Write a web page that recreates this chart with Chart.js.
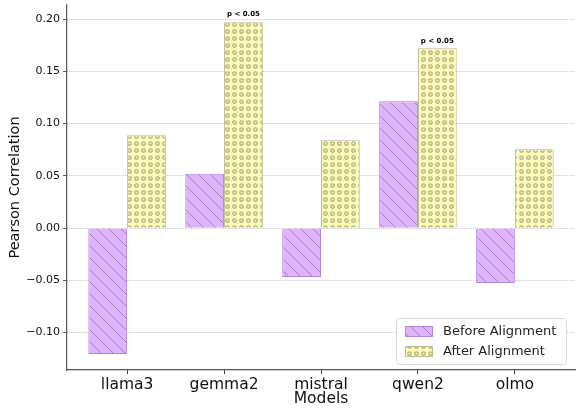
<!DOCTYPE html>
<html>
<head>
<meta charset="utf-8">
<script src="https://cdn.jsdelivr.net/npm/chart.js@4"></script>
<style>
  body { margin: 0; background: #fff; }
  #wrap { width: 576px; height: 408px; }
</style>
</head>
<body>
<div id="wrap"><canvas id="chart" width="576" height="408"></canvas></div>
<script>
const models = ["llama3", "gemma2", "mistral", "qwen2", "olmo"];
const beforeAlign = [-0.1205, 0.0520, -0.0468, 0.1214, -0.0526];
const afterAlign = [0.0889, 0.1970, 0.0841, 0.1720, 0.0755];
const pLabels = ["", "p < 0.05", "", "p < 0.05", ""];
const yTicks = [-0.10, -0.05, 0.00, 0.05, 0.10, 0.15, 0.20];

const FONT = "'DejaVu Sans', sans-serif";

// hatch patterns, made on small offscreen canvases
function makeLines() {
  const c = document.createElement("canvas");
  c.width = 12; c.height = 12;
  const g = c.getContext("2d");
  g.fillStyle = "#deb4fa";
  g.fillRect(0, 0, 12, 12);
  g.strokeStyle = "#a77ccb";
  g.lineWidth = 1;
  g.beginPath();
  g.moveTo(-1, -1); g.lineTo(13, 13);
  g.moveTo(-13, -1); g.lineTo(1, 13);
  g.moveTo(11, -1); g.lineTo(25, 13);
  g.stroke();
  return g.createPattern(c, "repeat");
}
function makeDots() {
  const c = document.createElement("canvas");
  c.width = 7; c.height = 7;
  const g = c.getContext("2d");
  g.fillStyle = "#fdfbb6";
  g.fillRect(0, 0, 7, 7);
  g.strokeStyle = "#b3af88";
  g.lineWidth = 1.3;
  g.beginPath();
  g.arc(3.5, 3.5, 1.7, 0, Math.PI * 2);
  g.stroke();
  return g.createPattern(c, "repeat");
}

const ctx = document.getElementById("chart").getContext("2d");
const linesPat = makeLines();
const dotsPat = makeDots();

// legend drawn by hand, inside the plot at lower right
const boxLegend = {
  id: "boxLegend",
  afterDraw(chart) {
    const c = chart.ctx;
    const x = 396, y = 318, w = 170, h = 46;
    c.save();
    c.fillStyle = "rgba(255,255,255,0.85)";
    c.strokeStyle = "#d8d8d8";
    c.lineWidth = 1;
    c.beginPath();
    c.roundRect(x + 0.5, y + 0.5, w, h, 3);
    c.fill();
    c.stroke();
    chart.data.datasets.forEach((ds, i) => {
      const ry = y + 8 + i * 20;
      c.fillStyle = ds.backgroundColor;
      c.fillRect(405, ry, 27, 10);
      c.strokeStyle = ds.borderColor;
      c.strokeRect(405.5, ry + 0.5, 27, 10);
      c.fillStyle = "#222";
      c.font = "13px " + FONT;
      c.textBaseline = "middle";
      c.fillText(ds.label, 443, ry + 5.5);
    });
    c.restore();
  }
};

// significance labels above the after-alignment bars
const pNotes = {
  id: "pNotes",
  afterDatasetsDraw(chart) {
    const c = chart.ctx;
    const meta = chart.getDatasetMeta(1);
    c.save();
    c.font = "bold 7px " + FONT;
    c.fillStyle = "#000";
    c.textAlign = "center";
    c.textBaseline = "bottom";
    meta.data.forEach((bar, i) => {
      if (pLabels[i]) c.fillText(pLabels[i], bar.x, bar.y - 4);
    });
    c.restore();
  }
};

new Chart(ctx, {
  type: "bar",
  data: {
    datasets: [
      {
        label: "Before Alignment",
        data: beforeAlign.map((v, i) => ({ x: i, y: v })),
        backgroundColor: linesPat,
        borderColor: "#b385da",
        borderWidth: 1,
      },
      {
        label: "After Alignment",
        data: afterAlign.map((v, i) => ({ x: i, y: v })),
        backgroundColor: dotsPat,
        borderColor: "#bdb98c",
        borderWidth: 1,
      },
    ],
  },
  options: {
    responsive: false,
    animation: false,
    layout: { padding: { top: 5, right: 1, left: 0, bottom: 0 } },
    plugins: {
      legend: { display: false },
      tooltip: { enabled: false },
    },
    datasets: { bar: { categoryPercentage: 0.8, barPercentage: 1.0 } },
    scales: {
      x: {
        type: "linear",
        offset: false,
        min: -0.62,
        max: 4.62,
        afterBuildTicks: (s) => { s.ticks = models.map((m, i) => ({ value: i })); },
        afterFit: (s) => { s.height = 38; s.paddingLeft = 0; s.paddingRight = 0; },
        ticks: {
          callback: (v, i) => models[i],
          color: "#111",
          font: { family: FONT, size: 15.5 },
          padding: 2,
          maxRotation: 0,
        },
        grid: { offset: false, drawOnChartArea: false, tickColor: "#333", tickLength: 4 },
        border: { color: "#555", width: 1.2 },
        title: {
          display: true,
          text: "Models",
          color: "#111",
          font: { family: FONT, size: 15.5 },
          padding: { top: -3, bottom: 0 },
        },
      },
      y: {
        min: -0.1358,
        max: 0.2134,
        afterBuildTicks: (s) => { s.ticks = yTicks.map((v) => ({ value: v })); },
        afterFit: (s) => { s.width = 67; s.paddingTop = 0; s.paddingBottom = 0; },
        ticks: {
          callback: (v) => v.toFixed(2).replace("-", "\u2212"),
          color: "#111",
          font: { family: FONT, size: 11 },
          padding: 3,
        },
        grid: {
          color: "#b8b8b8",
          lineWidth: 0.8,
          tickColor: "#333",
          tickLength: 4,
        },
        border: { color: "#555", width: 1.2, dash: [1, 1] },
        title: {
          display: true,
          text: "Pearson Correlation",
          color: "#111",
          font: { family: FONT, size: 14.5 },
          padding: { top: 7, bottom: 4 },
        },
      },
    },
  },
  plugins: [boxLegend, pNotes],
});
</script>
</body>
</html>
